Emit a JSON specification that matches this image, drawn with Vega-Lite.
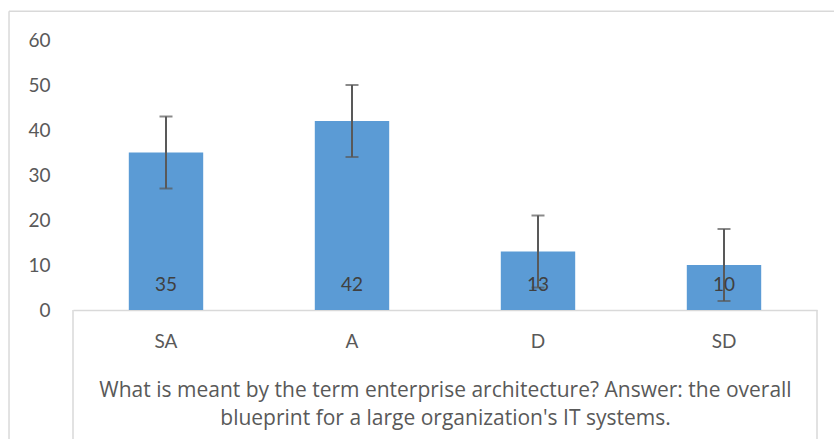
{
  "$schema": "https://vega.github.io/schema/vega-lite/v6.json",
  "autosize": "none",
  "width": 744,
  "height": 270,
  "padding": {"left": 73, "top": 40, "right": 17, "bottom": 129},
  "background": "white",
  "config": {
    "view": {"stroke": null},
    "font": "Lato",
    "text": {"font": "Lato"}
  },
  "data": {
    "values": [
      {"cat": "SA", "value": 35, "lo": 27, "hi": 43},
      {"cat": "A", "value": 42, "lo": 34, "hi": 50},
      {"cat": "D", "value": 13, "lo": 5, "hi": 21},
      {"cat": "SD", "value": 10, "lo": 2, "hi": 18}
    ]
  },
  "layer": [
    {
      "layer": [
        {
          "mark": {"type": "bar", "color": "#5B9BD5"},
          "encoding": {
            "x": {
              "field": "cat", "type": "nominal", "sort": null,
              "scale": {"paddingInner": 0.6, "paddingOuter": 0.3},
              "axis": {
                "labelAngle": 0, "labelFontSize": 19, "labelColor": "#595959", "labelFont": "Lato",
                "labelPadding": 22, "ticks": false, "domainColor": "#D9D9D9", "domainWidth": 1.5,
                "title": ["What is meant by the term enterprise architecture? Answer: the overall", "blueprint for a large organization's IT systems."],
                "titleFontSize": 21, "titleFontWeight": "normal", "titleColor": "#595959", "titleFont": "Open Sans",
                "titleLineHeight": 28, "titlePadding": 28
              }
            },
            "y": {
              "field": "value", "type": "quantitative",
              "scale": {"domain": [0, 60]},
              "axis": {
                "values": [0, 10, 20, 30, 40, 50, 60], "domain": false, "ticks": false, "grid": false,
                "labelFontSize": 19, "labelColor": "#595959", "labelFont": "Lato", "labelPadding": 23,
                "title": null
              }
            }
          }
        },
        {
          "mark": {"type": "rule", "color": "#595959", "strokeWidth": 2},
          "encoding": {
            "x": {"field": "cat", "type": "nominal", "sort": null},
            "y": {"field": "lo", "type": "quantitative"},
            "y2": {"field": "hi"}
          }
        },
        {
          "mark": {"type": "tick", "color": "#595959", "thickness": 2, "size": 13, "orient": "horizontal"},
          "encoding": {
            "x": {"field": "cat", "type": "nominal", "sort": null},
            "y": {"field": "lo", "type": "quantitative"}
          }
        },
        {
          "mark": {"type": "tick", "color": "#595959", "thickness": 2, "size": 13, "orient": "horizontal"},
          "encoding": {
            "x": {"field": "cat", "type": "nominal", "sort": null},
            "y": {"field": "hi", "type": "quantitative"}
          }
        },
        {
          "mark": {"type": "text", "color": "#404040", "fontSize": 19, "baseline": "middle", "dy": -25, "font": "Lato"},
          "encoding": {
            "x": {"field": "cat", "type": "nominal", "sort": null},
            "y": {"datum": 0, "type": "quantitative"},
            "text": {"field": "value", "type": "quantitative"}
          }
        }
      ]
    },
    {
      "layer": [
        {
          "data": {"values": [{"edge": 0}, {"edge": 1}]},
          "mark": {"type": "rule", "color": "#D9D9D9", "strokeWidth": 1.5},
          "encoding": {
            "x": {"field": "edge", "type": "quantitative", "scale": {"domain": [0, 1]}, "axis": null},
            "y": {"datum": 0, "type": "quantitative"},
            "y2": {"datum": -30}
          }
        },
        {
          "data": {"values": [{"x0": -0.086, "x1": 1.1, "y0": -30, "y1": 66.4}]},
          "mark": {"type": "rule", "color": "#D9D9D9", "strokeWidth": 1.5},
          "encoding": {
            "x": {"field": "x0", "type": "quantitative", "axis": null},
            "y": {"field": "y0", "type": "quantitative"},
            "y2": {"field": "y1"}
          }
        },
        {
          "data": {"values": [{"x0": -0.086, "x1": 1.1, "y0": -30, "y1": 66.4}]},
          "mark": {"type": "rule", "color": "#D9D9D9", "strokeWidth": 1.5},
          "encoding": {
            "x": {"field": "x0", "type": "quantitative", "axis": null},
            "x2": {"field": "x1"},
            "y": {"field": "y1", "type": "quantitative"}
          }
        }
      ]
    }
  ],
  "resolve": {"scale": {"x": "independent"}}
}
